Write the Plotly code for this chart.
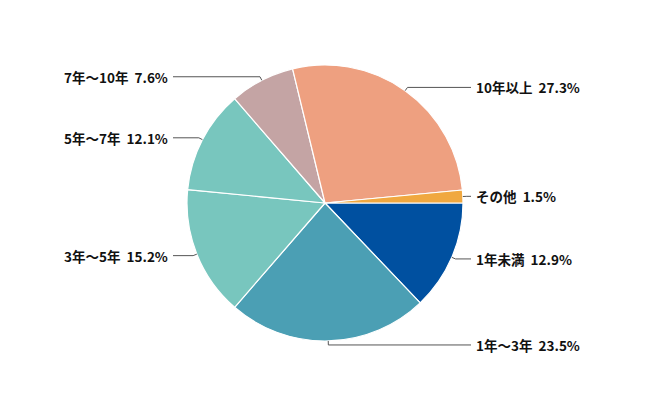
import math

import plotly.graph_objects as go

labels = ["1年未満", "1年～3年", "3年～5年", "5年～7年", "7年～10年", "10年以上", "その他"]
values = [12.9, 23.5, 15.2, 12.1, 7.6, 27.3, 1.5]
colors = ["#0050a0", "#4b9fb4", "#78c6be", "#78c6be", "#c4a4a4", "#eea080", "#f0a840"]

W, H = 650, 400
# page body has an 8px margin, so shift the layout back by that amount
cx, cy, r = 317, 195, 138
x_right, x_left = 463, 165
stub = 4

fig = go.Figure(
    go.Pie(
        labels=labels,
        values=values,
        sort=False,
        direction="clockwise",
        rotation=90,
        marker=dict(colors=colors, line=dict(color="white", width=1.2)),
        textinfo="none",
        hoverinfo="label+value",
        domain=dict(x=[(cx - r) / W, (cx + r) / W], y=[(H - cy - r) / H, (H - cy + r) / H]),
    )
)

total = sum(values)
cum = 0.0
for lab, v in zip(labels, values):
    mid = (cum + v / 2) / total
    cum += v
    ang = math.radians(mid * 360)  # clockwise from 3 o'clock
    x0, y0 = cx + r * math.cos(ang), cy + r * math.sin(ang)
    x1, y1 = cx + (r + stub) * math.cos(ang), cy + (r + stub) * math.sin(ang)
    right = x0 >= cx
    xe = x_right if right else x_left
    fig.add_shape(
        type="path", xref="paper", yref="paper",
        path=f"M {x0 / W} {1 - y0 / H} L {x1 / W} {1 - y1 / H} L {xe / W} {1 - y1 / H}",
        line=dict(color="#555555", width=1),
    )
    fig.add_annotation(
        x=(xe + 3 if right else xe - 3) / W, y=1 - y1 / H,
        xref="paper", yref="paper",
        text=f"<b>{lab}  {v}%</b>",
        showarrow=False,
        xanchor="left" if right else "right",
        yanchor="middle",
        font=dict(size=13.5, color="#111111"),
    )

fig.update_layout(
    width=W,
    height=H,
    margin=dict(l=0, r=0, t=0, b=0),
    paper_bgcolor="white",
    showlegend=False,
    font=dict(family="Noto Sans CJK JP, sans-serif"),
)

fig.write_html("out.html")
